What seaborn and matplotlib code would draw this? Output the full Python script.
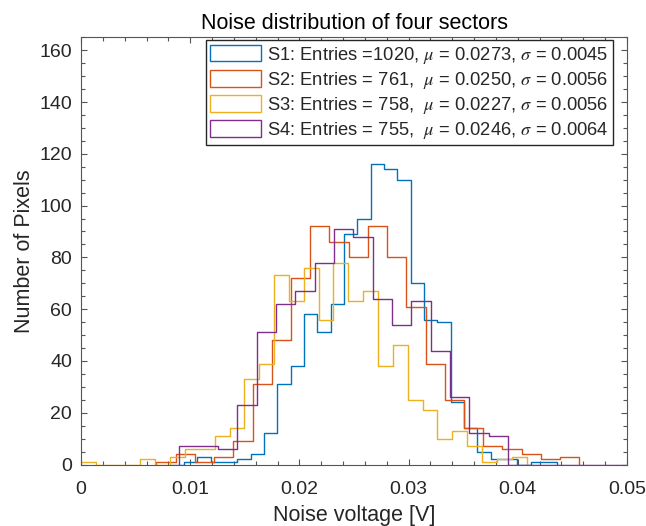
import numpy as np
import pandas as pd
import matplotlib
matplotlib.use('Agg')
import matplotlib.pyplot as plt
from matplotlib.patches import Patch
from matplotlib.ticker import MultipleLocator, FormatStrFormatter
import seaborn as sns

# counts per bin
s1_counts = [0, 1, 3, 1, 1, 2, 4, 12, 31, 38, 58, 51, 62, 89, 95, 116, 114, 110,
             70, 56, 55, 24, 14, 5, 2, 2, 0, 1, 1]
s2_counts = [1, 4, 1, 3, 9, 31, 48, 72, 92, 86, 80, 92, 80, 61, 39, 25, 14, 7, 6, 4, 2, 3]
s3_counts = [1, 0, 0, 0, 2, 0, 3, 6, 6, 11, 14, 33, 39, 73, 63, 76, 56, 78, 63, 67,
             38, 46, 25, 21, 10, 13, 7, 1, 2, 3]
s4_counts = [7, 7, 6, 23, 51, 62, 67, 78, 91, 88, 64, 54, 63, 44, 26, 12, 11,
             0, 0, 0, 0, 0, 0, 0, 1]

# first bin edge and bin width of each sector [V]
s1_bins = (0.00821, 0.001221)
s2_bins = (0.00690, 0.001761)
s3_bins = (0.0, 0.001360)
s4_bins = (0.00900, 0.001770)

labels = [r'S1: Entries =1020, $\mu$ = 0.0273, $\sigma$ = 0.0045',
          r'S2: Entries = 761,  $\mu$ = 0.0250, $\sigma$ = 0.0056',
          r'S3: Entries = 758,  $\mu$ = 0.0227, $\sigma$ = 0.0056',
          r'S4: Entries = 755,  $\mu$ = 0.0246, $\sigma$ = 0.0064']
colors = ['#0072BD', '#D95319', '#EDB120', '#7E2F8E']

sns.set_style('ticks')
plt.rcParams['font.family'] = ['Liberation Sans', 'DejaVu Sans']
plt.rcParams['mathtext.fontset'] = 'stix'

fig = plt.figure(figsize=(6.46, 5.26), dpi=100)
ax = fig.add_axes([0.1254, 0.1169, 0.8452, 0.8122])

for counts, (start, width), c in zip([s1_counts, s2_counts, s3_counts, s4_counts],
                                     [s1_bins, s2_bins, s3_bins, s4_bins], colors):
    edges = start + width * np.arange(len(counts) + 1)
    df = pd.DataFrame({'v': (edges[:-1] + edges[1:]) / 2, 'n': counts})
    sns.histplot(data=df, x='v', weights='n', bins=list(edges), element='step',
                 fill=False, color=c, linewidth=1.0, ax=ax)
    # close the outline down to zero at both ends, like a stairs histogram
    line = ax.lines[-1]
    xd, yd = line.get_data()
    line.set_data(np.r_[xd[0], xd, xd[-1]], np.r_[0, yd, 0])

ax.set_xlim(0, 0.05)
ax.set_ylim(0, 165)
ax.xaxis.set_major_locator(MultipleLocator(0.01))
ax.xaxis.set_minor_locator(MultipleLocator(0.002))
ax.yaxis.set_major_locator(MultipleLocator(20))
ax.yaxis.set_minor_locator(MultipleLocator(5))
ax.xaxis.set_major_formatter(FormatStrFormatter('%g'))
ax.tick_params(which='both', direction='in', top=True, right=True, color='#555555',
               labelcolor='#262626', labelsize=14, width=0.8)
ax.tick_params(which='major', length=4)
ax.tick_params(which='minor', length=3)
ax.tick_params(axis='x', which='major', pad=12)
ax.tick_params(axis='y', which='major', pad=6.5)
for sp in ax.spines.values():
    sp.set_visible(True)
    sp.set_color('#555555')
    sp.set_linewidth(0.8)

ax.set_xlabel('Noise voltage [V]', fontsize=15.5, color='#262626', labelpad=5)
ax.set_ylabel('Number of Pixels', fontsize=15.5, color='#262626', labelpad=3)
ax.set_title('Noise distribution of four sectors', fontsize=15.5, color='black', pad=6)

handles = [Patch(facecolor='white', edgecolor=c, linewidth=1.0) for c in colors]
ax.legend(handles, labels, loc='upper right', bbox_to_anchor=(0.9744, 0.9937),
          borderaxespad=0, fancybox=False, framealpha=1, edgecolor='#262626',
          fontsize=13.2, handlelength=2.8, handleheight=1.0, handletextpad=0.3,
          labelspacing=0.22, borderpad=0.25)

fig.savefig('out.png', dpi=100)
